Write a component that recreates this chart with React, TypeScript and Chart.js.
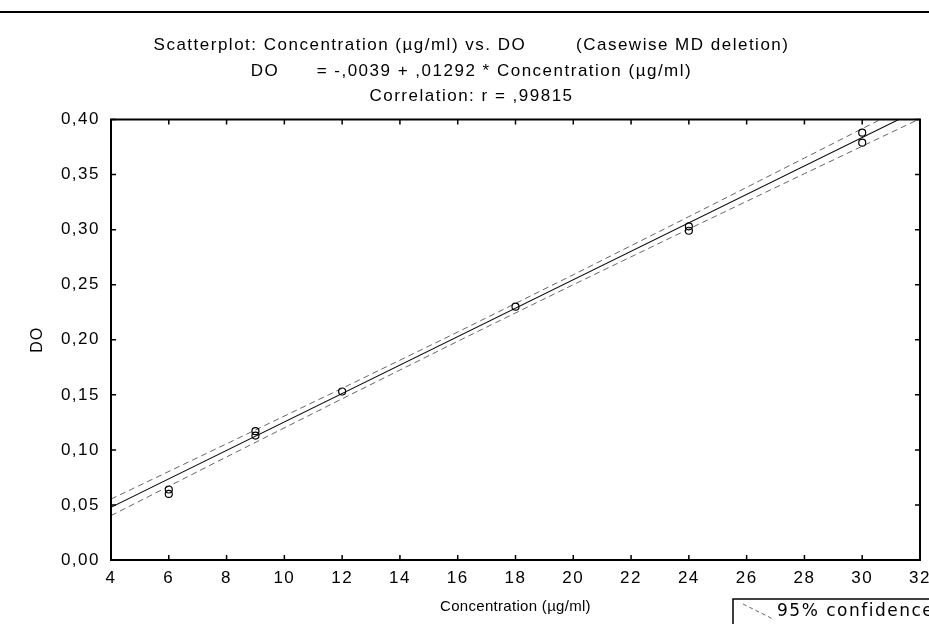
import React, { useEffect, useRef } from "react";
import { Chart, registerables } from "chart.js";

Chart.register(...registerables);

// ---- data ----
const concentration = [6, 6, 9, 9, 12, 18, 24, 24, 30, 30];
const doValues = [0.060, 0.064, 0.117, 0.113, 0.153, 0.230, 0.303, 0.299, 0.388, 0.379];

// regression line DO = -0.0039 + 0.01292 * C (end points)
const fitX = [4, 32];
const fitY = [0.0478, 0.4095];

// 95% confidence band (read at a few concentrations)
const bandX = [4, 8, 12, 16, 20, 24, 28, 32];
const bandUpper = [0.0553, 0.1055, 0.1559, 0.2070, 0.2590, 0.3118, 0.3650, 0.4183];
const bandLower = [0.0403, 0.0936, 0.1464, 0.1986, 0.2500, 0.3006, 0.3508, 0.4007];

const xTicks = [4, 6, 8, 10, 12, 14, 16, 18, 20, 22, 24, 26, 28, 30, 32];
const yTicks = [0, 0.05, 0.1, 0.15, 0.2, 0.25, 0.3, 0.35, 0.4];

const titleLines = [
  "Scatterplot: Concentration (µg/ml) vs. DO        (Casewise MD deletion)",
  "DO      = -,0039 + ,01292 * Concentration (µg/ml)",
  "Correlation: r = ,99815",
];
const xTitle = "Concentration (µg/ml)";
const yTitle = "DO";
const legendLabel = "95% confidence";

const SANS = "'Liberation Sans', Arial, sans-serif";

const framePlugin = {
  id: "frame",
  beforeDraw(chart: any) {
    const ctx = chart.ctx;
    ctx.save();
    ctx.fillStyle = "#fff";
    ctx.fillRect(0, 0, chart.width, chart.height);
    ctx.restore();
    ctx.letterSpacing = "1.5px";
  },
  afterDraw(chart: any) {
    const { ctx, chartArea: a, scales } = chart;
    ctx.save();
    ctx.letterSpacing = "0px";
    ctx.strokeStyle = "#000";
    ctx.setLineDash([]);
    ctx.lineWidth = 2;
    ctx.strokeRect(a.left, a.top, a.right - a.left, a.bottom - a.top);
    ctx.lineWidth = 1.5;
    ctx.beginPath();
    for (const v of xTicks) {
      const px = scales.x.getPixelForValue(v);
      ctx.moveTo(px, a.bottom);
      ctx.lineTo(px, a.bottom - 5);
      ctx.moveTo(px, a.top);
      ctx.lineTo(px, a.top + 5);
    }
    for (const v of yTicks) {
      const py = scales.y.getPixelForValue(v);
      ctx.moveTo(a.left, py);
      ctx.lineTo(a.left + 5, py);
      ctx.moveTo(a.right, py);
      ctx.lineTo(a.right - 5, py);
    }
    ctx.stroke();
    // top rule of the page
    ctx.lineWidth = 2;
    ctx.beginPath();
    ctx.moveTo(0, 12);
    ctx.lineTo(chart.width, 12);
    ctx.stroke();

    // axis titles
    ctx.fillStyle = "#000";
    ctx.textBaseline = "middle";
    ctx.textAlign = "center";
    ctx.font = "15px " + SANS;
    ctx.letterSpacing = "0.3px";
    ctx.fillText(xTitle, (a.left + a.right) / 2, 607);
    ctx.save();
    ctx.translate(38, (a.top + a.bottom) / 2);
    ctx.rotate(-Math.PI / 2);
    ctx.font = "16px " + SANS;
    ctx.letterSpacing = "1px";
    ctx.fillText(yTitle, 0, 0);
    ctx.restore();

    // legend box
    ctx.strokeStyle = "#000";
    ctx.lineWidth = 1.5;
    ctx.strokeRect(733, 599, 260, 40);
    ctx.strokeStyle = "#666";
    ctx.lineWidth = 1;
    ctx.setLineDash([4, 3]);
    ctx.beginPath();
    ctx.moveTo(743, 604);
    ctx.lineTo(773, 619);
    ctx.stroke();
    ctx.setLineDash([]);
    ctx.fillStyle = "#000";
    ctx.font = "17px 'DejaVu Sans', sans-serif";
    ctx.letterSpacing = "1.5px";
    ctx.textBaseline = "middle";
    ctx.textAlign = "left";
    ctx.fillText(legendLabel, 777, 612);
    ctx.restore();
  },
};

export default function App() {
  const ref = useRef<HTMLCanvasElement>(null);
  useEffect(() => {
    const canvas = ref.current!;
    const chart = new Chart(canvas, {
      type: "scatter",
      data: {
        datasets: [
          {
            label: "DO",
            data: concentration.map((x, i) => ({ x, y: doValues[i] })),
            showLine: false,
            pointRadius: 3.5,
            pointStyle: "circle",
            borderColor: "#000",
            backgroundColor: "rgba(0,0,0,0)",
            borderWidth: 1.2,
          } as any,
          {
            label: "fit",
            type: "line",
            data: fitX.map((x, i) => ({ x, y: fitY[i] })),
            borderColor: "#111",
            borderWidth: 1.1,
            pointRadius: 0,
            fill: false,
            tension: 0,
            clip: 0,
          } as any,
          {
            label: "upper",
            type: "line",
            data: bandX.map((x, i) => ({ x, y: bandUpper[i] })),
            borderColor: "#666",
            borderDash: [6, 4],
            borderWidth: 1,
            pointRadius: 0,
            fill: false,
            tension: 0,
            clip: 0,
          } as any,
          {
            label: "lower",
            type: "line",
            data: bandX.map((x, i) => ({ x, y: bandLower[i] })),
            borderColor: "#666",
            borderDash: [6, 4],
            borderWidth: 1,
            pointRadius: 0,
            fill: false,
            tension: 0,
            clip: 0,
          } as any,
        ],
      },
      options: {
        responsive: false,
        animation: false,
        layout: { padding: { left: 14, right: 0, top: 0, bottom: 0 } },
        plugins: {
          legend: { display: false },
          tooltip: { enabled: false },
          title: {
            display: true,
            text: titleLines,
            color: "#000",
            font: { family: SANS, size: 17, weight: "normal", lineHeight: 1.5 },
            padding: { top: 33, bottom: 10 },
          },
        },
        scales: {
          x: {
            type: "linear",
            position: "bottom",
            min: 4,
            max: 32,
            afterBuildTicks: (s: any) => {
              s.ticks = xTicks.map((v) => ({ value: v }));
            },
            afterFit: (s: any) => {
              s.height = 64;
              s.paddingLeft = 0;
              s.paddingRight = 9;
            },
            grid: { display: false, drawTicks: false },
            border: { display: false },
            ticks: {
              color: "#000",
              font: { family: SANS, size: 17 },
              padding: 8,
              autoSkip: false,
              maxRotation: 0,
              callback: (v: any) => String(v),
            },
            title: { display: false },
          },
          y: {
            type: "linear",
            min: 0,
            max: 0.4,
            afterBuildTicks: (s: any) => {
              s.ticks = yTicks.map((v) => ({ value: v }));
            },
            afterFit: (s: any) => {
              s.width = 97;
              s.paddingTop = 0;
              s.paddingBottom = 0;
            },
            grid: { display: false, drawTicks: false },
            border: { display: false },
            ticks: {
              color: "#000",
              font: { family: SANS, size: 17 },
              padding: 11,
              callback: (v: any) => Number(v).toFixed(2).replace(".", ","),
            },
            title: { display: false },
          },
        },
      } as any,
      plugins: [framePlugin],
    });
    return () => chart.destroy();
  }, []);
  return (
    <div style={{ position: "fixed", left: 0, top: 0, width: 929, height: 624, background: "#fff" }}>
      <canvas ref={ref} width={929} height={624} style={{ display: "block", width: 929, height: 624 }} />
    </div>
  );
}
